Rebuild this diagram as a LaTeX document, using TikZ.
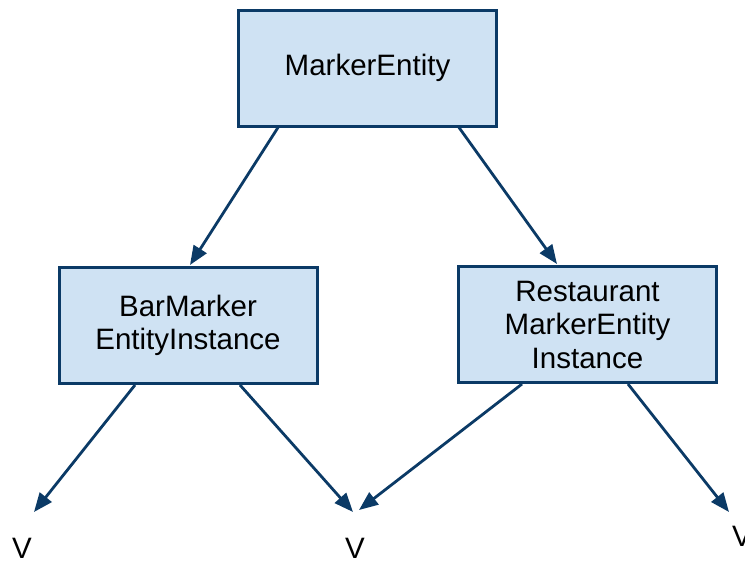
\documentclass[tikz,border=0pt]{standalone}
\usepackage{fontspec}
\setmainfont{Liberation Sans}
\usetikzlibrary{arrows.meta}
\definecolor{boxfill}{HTML}{CFE2F3}
\definecolor{boxline}{HTML}{0B3A66}
\begin{document}
\begin{tikzpicture}[x=1pt,y=-1pt,
  entity/.style={draw=boxline, fill=boxfill, line width=3pt, minimum width=258pt,
    minimum height=116pt, align=center, font=\fontsize{29.5}{33.5}\selectfont, inner sep=0pt},
  link/.style={draw=boxline, line width=2.8pt, -{Triangle[length=19pt,width=15pt]}},
  leaf/.style={font=\fontsize{29.5}{33}\selectfont, inner sep=0pt, anchor=north}]
  \useasboundingbox (0,0) rectangle (745,563);
  \clip (0,0) rectangle (745,563);
  \node[entity] (top) at (367.5,68) {MarkerEntity};
  \node[entity] (bar) at (188,325.5) {BarMarker\\EntityInstance};
  \node[entity] (rest) at (587.5,324.5) {Restaurant\\MarkerEntity\\Instance};
  \node[leaf] (v1) at (22,538) {V};
  \node[leaf] (v2) at (355,538) {V};
  \node[leaf] (v3) at (742,526) {V};
  \coordinate (t1) at (190,265);
  \coordinate (t2) at (557,264);
  \coordinate (t3) at (34,512);
  \coordinate (t4) at (353,512);
  \coordinate (t5) at (359,510);
  \coordinate (t6) at (729,512);
  \draw[link] (top.south -| 278,0) -- (t1);
  \draw[link] (top.south -| 459,0) -- (t2);
  \draw[link] (bar.south -| 135,0) -- (t3);
  \draw[link] (bar.south -| 240,0) -- (t4);
  \draw[link] (rest.south -| 522,0) -- (t5);
  \draw[link] (rest.south -| 628,0) -- (t6);
\end{tikzpicture}
\end{document}
